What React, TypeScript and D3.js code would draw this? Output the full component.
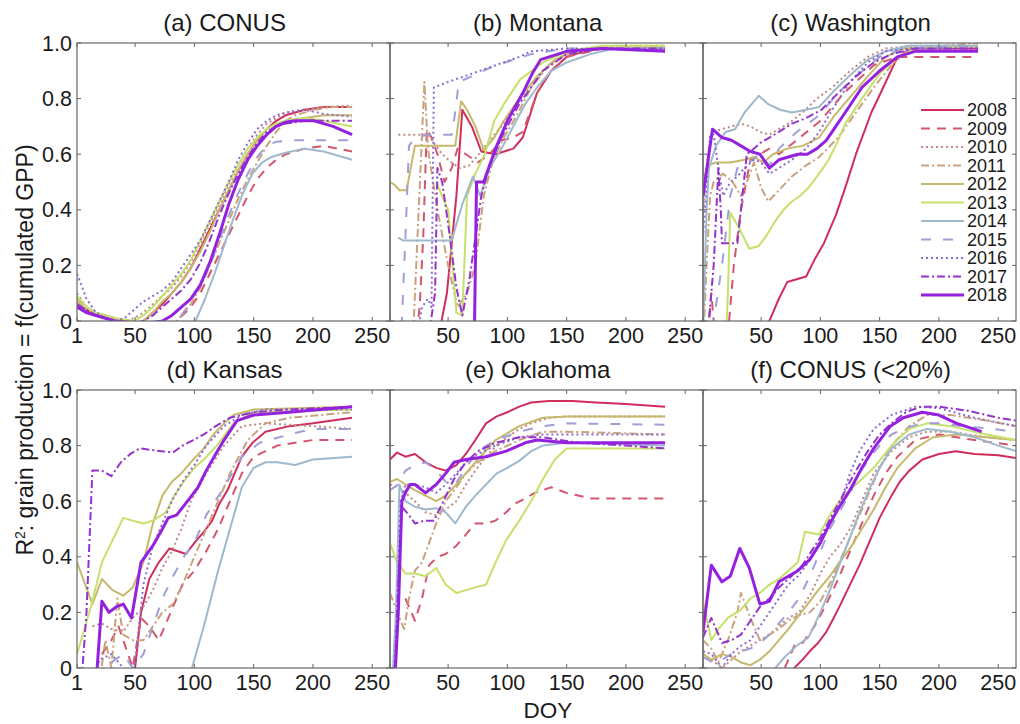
import React from 'react';
import * as d3 from 'd3';

type Pt = [number, number];

const YEARS = ['2008', '2009', '2010', '2011', '2012', '2013', '2014', '2015', '2016', '2017', '2018'];
const YEAR_COLORS = ['#cf2d5c', '#d4566c', '#c08a84', '#c9a27c', '#c6b96c', '#c6e06c', '#9fb8cc', '#a09ed6', '#8c6ad2', '#9433cc', '#9420e0'];
const YEAR_DASHES = ['', '9,7', '2,3', '8,3,2,3', '', '', '', '10,12', '2,3', '8,3,2,3', ''];
const YEAR_WIDTHS = [2, 2, 2, 2, 2, 2, 2, 2, 2, 2, 3];

const PANEL_TITLES = ['(a) CONUS', '(b) Montana', '(c) Washington', '(d) Kansas', '(e) Oklahoma', '(f) CONUS (<20%)'];
const DOY_TICKS = [1, 50, 100, 150, 200, 250];
const R2_TICKS = [0, 0.2, 0.4, 0.6, 0.8, 1];

// [DOY, R2] per year, 2008..2018
const conusAll: Pt[][] = [
  [[1, 0.06], [9, 0.04], [17, 0.02], [25, 0.02], [33, 0], [41, -0.02], [57, 0], [73, 0.06], [89, 0.14], [97, 0.19], [105, 0.26], [113, 0.33], [121, 0.4], [129, 0.47], [137, 0.54], [145, 0.6], [153, 0.65], [161, 0.69], [169, 0.72], [177, 0.74], [193, 0.76], [209, 0.77], [233, 0.77]],
  [[1, 0.05], [9, 0.03], [17, 0.02], [25, 0.02], [33, 0], [49, -0.02], [73, -0.03], [85, 0], [97, 0.05], [105, 0.1], [113, 0.17], [121, 0.24], [129, 0.31], [137, 0.38], [145, 0.45], [153, 0.51], [161, 0.55], [169, 0.58], [177, 0.6], [193, 0.62], [209, 0.63], [233, 0.61]],
  [[1, 0.1], [9, 0.05], [17, 0.03], [25, 0.02], [33, 0.01], [41, 0], [49, 0.01], [57, 0.03], [65, 0.06], [73, 0.09], [81, 0.12], [89, 0.16], [97, 0.21], [105, 0.28], [113, 0.35], [121, 0.42], [129, 0.49], [137, 0.56], [145, 0.62], [153, 0.67], [161, 0.71], [169, 0.73], [177, 0.75], [193, 0.76], [209, 0.77], [233, 0.775]],
  [[1, 0.07], [9, 0.04], [17, 0.02], [25, 0.02], [33, 0], [49, -0.02], [73, -0.02], [85, 0], [97, 0.06], [105, 0.12], [113, 0.2], [121, 0.28], [129, 0.36], [137, 0.44], [145, 0.51], [153, 0.57], [161, 0.63], [169, 0.68], [177, 0.72], [185, 0.74], [201, 0.76], [217, 0.77], [233, 0.77]],
  [[1, 0.08], [9, 0.05], [17, 0.03], [25, 0.02], [33, 0.01], [49, -0.01], [57, 0], [65, 0.03], [73, 0.07], [81, 0.1], [89, 0.14], [97, 0.19], [105, 0.25], [113, 0.32], [121, 0.4], [129, 0.47], [137, 0.54], [145, 0.6], [153, 0.65], [161, 0.69], [169, 0.71], [177, 0.72], [193, 0.73], [209, 0.74], [233, 0.74]],
  [[1, 0.09], [9, 0.05], [17, 0.03], [25, 0.02], [33, 0.01], [49, 0], [57, 0.02], [65, 0.05], [73, 0.09], [81, 0.13], [89, 0.17], [97, 0.22], [105, 0.29], [113, 0.36], [121, 0.43], [129, 0.5], [137, 0.56], [145, 0.62], [153, 0.66], [161, 0.69], [169, 0.71], [177, 0.72], [193, 0.73], [209, 0.72], [233, 0.7]],
  [[1, 0.06], [9, 0.03], [17, 0.02], [25, 0.01], [33, 0], [57, -0.03], [89, -0.03], [101, 0], [109, 0.08], [117, 0.17], [125, 0.27], [133, 0.37], [141, 0.46], [149, 0.53], [157, 0.57], [165, 0.59], [177, 0.605], [193, 0.62], [209, 0.61], [225, 0.59], [233, 0.58]],
  [[1, 0.05], [9, 0.03], [17, 0.02], [25, 0.01], [33, 0], [57, -0.02], [81, -0.01], [89, 0.02], [97, 0.07], [105, 0.13], [113, 0.2], [121, 0.29], [129, 0.38], [137, 0.46], [145, 0.53], [153, 0.59], [161, 0.63], [169, 0.645], [185, 0.65], [209, 0.65], [233, 0.65]],
  [[1, 0.17], [9, 0.08], [17, 0.03], [25, 0.01], [33, 0], [41, 0.01], [49, 0.04], [57, 0.07], [65, 0.09], [73, 0.11], [81, 0.14], [89, 0.19], [97, 0.24], [105, 0.29], [113, 0.36], [121, 0.43], [129, 0.5], [137, 0.58], [145, 0.64], [153, 0.69], [161, 0.72], [169, 0.74], [177, 0.75], [193, 0.76], [209, 0.745], [233, 0.735]],
  [[1, 0.06], [9, 0.04], [17, 0.02], [25, 0.01], [33, 0], [49, -0.01], [57, 0], [65, 0.02], [73, 0.05], [81, 0.08], [89, 0.11], [97, 0.15], [105, 0.21], [113, 0.29], [121, 0.38], [129, 0.46], [137, 0.53], [145, 0.59], [153, 0.64], [161, 0.68], [169, 0.7], [177, 0.71], [193, 0.72], [209, 0.72], [233, 0.72]],
  [[1, 0.05], [9, 0.03], [17, 0.02], [25, 0.01], [33, 0], [57, -0.01], [73, 0], [81, 0.02], [89, 0.05], [97, 0.08], [105, 0.13], [113, 0.21], [121, 0.31], [129, 0.42], [137, 0.51], [145, 0.58], [153, 0.63], [161, 0.67], [169, 0.7], [177, 0.715], [185, 0.72], [201, 0.72], [217, 0.7], [233, 0.67]],
];

const montana: Pt[][] = [
  [[40, -0.1], [49, 0.1], [57, 0.45], [62, 0.76], [70, 0.7], [78, 0.61], [90, 0.6], [105, 0.62], [113, 0.66], [125, 0.82], [137, 0.9], [150, 0.95], [165, 0.97], [180, 0.98], [233, 0.98]],
  [[22, -0.1], [26, 0.05], [29, 0.3], [32, 0.69], [36, 0.66], [41, 0.6], [47, 0.5], [53, 0.55], [58, 0.62], [65, 0.6], [75, 0.57], [85, 0.6], [95, 0.65], [105, 0.66], [113, 0.68], [125, 0.82], [137, 0.9], [150, 0.95], [180, 0.98], [233, 0.98]],
  [[8, 0.67], [33, 0.67], [38, 0.64], [45, 0.6], [53, 0.57], [60, 0.55], [68, 0.56], [76, 0.6], [85, 0.65], [95, 0.7], [105, 0.76], [115, 0.82], [125, 0.88], [137, 0.93], [150, 0.96], [170, 0.98], [190, 0.99], [233, 0.99]],
  [[20, -0.1], [30, 0.86], [33, 0.62], [41, 0.4], [50, 0.2], [58, 0.05], [66, 0.1], [73, 0.2], [80, 0.45], [88, 0.58], [97, 0.66], [108, 0.74], [120, 0.84], [135, 0.92], [150, 0.96], [175, 0.98], [233, 0.99]],
  [[1, 0.5], [5, 0.49], [9, 0.47], [15, 0.47], [22, 0.63], [33, 0.63], [45, 0.63], [56, 0.63], [61, 0.79], [66, 0.76], [73, 0.7], [80, 0.615], [89, 0.66], [97, 0.72], [110, 0.8], [125, 0.88], [140, 0.94], [155, 0.97], [175, 0.98], [233, 0.98]],
  [[40, 0.5], [50, 0.4], [57, 0.03], [62, 0.02], [66, 0.45], [73, 0.53], [81, 0.6], [89, 0.72], [97, 0.78], [111, 0.87], [130, 0.93], [150, 0.97], [180, 0.99], [233, 0.99]],
  [[8, 0.3], [12, 0.29], [22, 0.29], [33, 0.29], [45, 0.29], [53, 0.29], [62, 0.42], [71, 0.52], [77, 0.45], [85, 0.55], [95, 0.62], [105, 0.7], [115, 0.78], [125, 0.84], [137, 0.9], [150, 0.93], [170, 0.96], [190, 0.98], [233, 0.98]],
  [[10, -0.1], [14, 0.3], [17, 0.63], [22, 0.66], [33, 0.67], [45, 0.67], [53, 0.67], [56, 0.75], [59, 0.86], [70, 0.88], [85, 0.91], [98, 0.93], [120, 0.96], [150, 0.98], [233, 0.98]],
  [[22, -0.1], [28, 0.05], [33, 0.08], [36, 0.05], [38, 0.84], [50, 0.86], [67, 0.885], [90, 0.92], [110, 0.95], [120, 0.97], [150, 0.98], [233, 0.975]],
  [[32, -0.1], [39, 0.1], [41, 0.55], [45, 0.5], [50, 0.35], [57, 0.12], [62, 0.02], [68, 0.15], [73, 0.3], [78, 0.45], [85, 0.56], [95, 0.66], [110, 0.78], [130, 0.9], [150, 0.96], [180, 0.98], [233, 0.98]],
  [[72, -0.1], [74, 0.5], [80, 0.5], [90, 0.62], [100, 0.72], [113, 0.82], [121, 0.89], [128, 0.94], [150, 0.97], [180, 0.98], [233, 0.97]],
];

const washington: Pt[][] = [
  [[50, -0.05], [57, 0], [65, 0.08], [72, 0.14], [80, 0.15], [88, 0.16], [95, 0.22], [103, 0.28], [113, 0.38], [121, 0.48], [130, 0.6], [143, 0.75], [153, 0.84], [164, 0.94], [175, 0.98], [233, 0.98]],
  [[4, -0.1], [8, 0.1], [12, -0.1], [22, -0.05], [27, 0.2], [33, 0.4], [41, 0.58], [49, 0.6], [57, 0.62], [65, 0.6], [80, 0.65], [100, 0.72], [120, 0.82], [145, 0.92], [165, 0.95], [233, 0.95]],
  [[1, 0.38], [5, 0.6], [9, 0.68], [17, 0.69], [25, 0.7], [33, 0.71], [41, 0.7], [49, 0.68], [57, 0.67], [65, 0.69], [73, 0.71], [85, 0.75], [97, 0.8], [110, 0.84], [125, 0.9], [140, 0.95], [155, 0.98], [175, 0.99], [233, 0.99]],
  [[1, -0.1], [4, 0.2], [7, 0.45], [10, 0.5], [18, 0.53], [26, 0.5], [33, 0.45], [38, 0.5], [44, 0.57], [50, 0.48], [56, 0.43], [65, 0.47], [76, 0.52], [88, 0.56], [99, 0.59], [115, 0.66], [130, 0.75], [145, 0.84], [160, 0.92], [175, 0.98], [233, 1]],
  [[1, 0.5], [5, 0.56], [12, 0.57], [24, 0.57], [36, 0.58], [44, 0.59], [52, 0.57], [60, 0.6], [72, 0.62], [85, 0.63], [99, 0.66], [112, 0.74], [124, 0.8], [140, 0.88], [155, 0.95], [170, 0.98], [233, 0.99]],
  [[20, -0.1], [22, 0.1], [24, 0.39], [32, 0.33], [40, 0.26], [48, 0.27], [55, 0.31], [62, 0.36], [69, 0.4], [76, 0.43], [83, 0.45], [90, 0.48], [99, 0.53], [107, 0.58], [114, 0.64], [121, 0.71], [135, 0.8], [150, 0.89], [165, 0.95], [180, 0.98], [233, 0.99]],
  [[1, -0.05], [4, 0.4], [6, 0.55], [12, 0.63], [20, 0.68], [28, 0.69], [36, 0.75], [44, 0.79], [48, 0.81], [56, 0.78], [66, 0.76], [76, 0.75], [88, 0.76], [99, 0.77], [112, 0.83], [124, 0.88], [140, 0.94], [155, 0.97], [175, 0.99], [233, 0.99]],
  [[1, -0.1], [10, 0], [17, 0.2], [24, 0.45], [30, 0.55], [40, 0.57], [49, 0.6], [57, 0.56], [65, 0.62], [80, 0.68], [99, 0.74], [115, 0.82], [130, 0.88], [150, 0.95], [170, 0.98], [233, 0.99]],
  [[1, 0.3], [4, 0.5], [7, 0.67], [10, 0.67], [14, 0.55], [18, 0.45], [24, 0.5], [30, 0.52], [36, 0.55], [44, 0.58], [50, 0.57], [57, 0.53], [65, 0.55], [76, 0.58], [88, 0.62], [99, 0.68], [110, 0.76], [125, 0.86], [140, 0.93], [155, 0.97], [175, 0.98], [233, 0.98]],
  [[1, -0.1], [5, -0.05], [10, 0.2], [14, 0.55], [16, 0.4], [17, 0.28], [24, 0.28], [30, 0.28], [33, 0.4], [38, 0.6], [44, 0.62], [49, 0.64], [57, 0.66], [65, 0.68], [76, 0.71], [88, 0.73], [101, 0.76], [115, 0.82], [130, 0.88], [145, 0.93], [160, 0.96], [180, 0.98], [233, 0.98]],
  [[1, 0.45], [9, 0.69], [17, 0.66], [25, 0.65], [33, 0.63], [41, 0.61], [49, 0.6], [57, 0.55], [65, 0.58], [73, 0.59], [81, 0.6], [89, 0.6], [97, 0.62], [105, 0.65], [113, 0.7], [121, 0.75], [135, 0.84], [150, 0.9], [165, 0.95], [180, 0.97], [233, 0.97]],
];

const kansas: Pt[][] = [
  [[45, -0.05], [50, 0], [55, 0.2], [62, 0.32], [70, 0.38], [79, 0.43], [86, 0.42], [93, 0.41], [100, 0.45], [108, 0.49], [115, 0.53], [121, 0.59], [128, 0.64], [133, 0.69], [140, 0.76], [149, 0.81], [160, 0.85], [180, 0.87], [200, 0.88], [233, 0.9]],
  [[22, 0.05], [30, 0.1], [36, 0.15], [40, 0.1], [48, 0], [55, 0.18], [62, 0.15], [70, 0.1], [80, 0.2], [90, 0.3], [100, 0.35], [110, 0.42], [120, 0.5], [130, 0.6], [140, 0.7], [150, 0.76], [170, 0.8], [200, 0.82], [233, 0.82]],
  [[14, 0.15], [22, 0.16], [30, 0.14], [40, 0.13], [48, 0.18], [57, 0.22], [65, 0.28], [73, 0.36], [81, 0.42], [89, 0.5], [97, 0.6], [110, 0.7], [125, 0.8], [140, 0.87], [160, 0.88], [200, 0.87], [233, 0.86]],
  [[20, -0.05], [25, 0.1], [30, 0], [35, 0.25], [40, 0.12], [48, 0.1], [57, 0.1], [65, 0.15], [73, 0.2], [82, 0.23], [90, 0.3], [100, 0.4], [115, 0.55], [130, 0.7], [145, 0.82], [160, 0.88], [180, 0.9], [233, 0.92]],
  [[1, 0.38], [8, 0.3], [14, 0.23], [22, 0.32], [31, 0.28], [40, 0.26], [48, 0.29], [57, 0.38], [65, 0.52], [73, 0.62], [81, 0.67], [89, 0.7], [97, 0.74], [108, 0.79], [116, 0.84], [125, 0.88], [133, 0.91], [150, 0.93], [233, 0.94]],
  [[1, 0.05], [8, 0.15], [14, 0.24], [22, 0.38], [31, 0.46], [40, 0.54], [48, 0.53], [57, 0.52], [65, 0.53], [76, 0.56], [83, 0.62], [91, 0.67], [100, 0.72], [108, 0.75], [119, 0.8], [133, 0.88], [150, 0.92], [233, 0.93]],
  [[92, -0.05], [98, 0], [108, 0.15], [120, 0.35], [130, 0.5], [140, 0.65], [150, 0.72], [160, 0.74], [170, 0.74], [185, 0.73], [200, 0.75], [233, 0.76]],
  [[30, 0.02], [40, 0.05], [48, 0], [57, 0.05], [65, 0.15], [73, 0.25], [82, 0.33], [91, 0.4], [100, 0.45], [110, 0.55], [125, 0.65], [140, 0.76], [155, 0.81], [180, 0.84], [200, 0.86], [233, 0.86]],
  [[14, -0.05], [20, 0.03], [30, 0.05], [40, 0], [48, -0.05], [52, 0.1], [57, 0.3], [65, 0.44], [73, 0.52], [81, 0.6], [90, 0.67], [100, 0.73], [110, 0.8], [125, 0.87], [140, 0.91], [160, 0.93], [233, 0.93]],
  [[4, -0.1], [9, 0.2], [14, 0.71], [22, 0.71], [30, 0.69], [38, 0.74], [46, 0.77], [54, 0.79], [62, 0.785], [72, 0.78], [82, 0.775], [90, 0.8], [99, 0.82], [108, 0.84], [116, 0.865], [130, 0.9], [150, 0.92], [180, 0.93], [233, 0.94]],
  [[14, -0.05], [18, 0], [22, 0.24], [28, 0.2], [34, 0.22], [40, 0.23], [47, 0.18], [55, 0.38], [65, 0.44], [73, 0.5], [78, 0.54], [85, 0.55], [96, 0.61], [103, 0.65], [110, 0.71], [118, 0.77], [125, 0.82], [136, 0.89], [150, 0.91], [180, 0.92], [233, 0.94]],
];

const oklahoma: Pt[][] = [
  [[1, 0.75], [7, 0.775], [14, 0.76], [22, 0.77], [31, 0.74], [40, 0.72], [48, 0.71], [57, 0.73], [65, 0.77], [73, 0.82], [82, 0.88], [91, 0.905], [100, 0.92], [110, 0.94], [120, 0.955], [135, 0.96], [155, 0.96], [175, 0.955], [200, 0.95], [233, 0.94]],
  [[14, 0.25], [22, 0.17], [28, 0.25], [34, 0.37], [41, 0.4], [48, 0.41], [57, 0.44], [65, 0.48], [73, 0.52], [82, 0.52], [90, 0.53], [99, 0.56], [106, 0.59], [115, 0.61], [123, 0.63], [137, 0.65], [150, 0.63], [170, 0.61], [200, 0.61], [233, 0.61]],
  [[1, 0.66], [8, 0.65], [14, 0.63], [22, 0.6], [31, 0.56], [40, 0.55], [48, 0.57], [57, 0.6], [65, 0.66], [73, 0.71], [82, 0.76], [91, 0.8], [100, 0.83], [110, 0.86], [120, 0.88], [135, 0.9], [150, 0.905], [233, 0.905]],
  [[1, 0.27], [7, 0.2], [13, 0.14], [17, 0.25], [22, 0.35], [28, 0.38], [34, 0.45], [40, 0.52], [48, 0.6], [57, 0.65], [65, 0.7], [75, 0.74], [90, 0.78], [110, 0.82], [130, 0.85], [150, 0.85], [233, 0.84]],
  [[1, 0.67], [7, 0.68], [14, 0.66], [22, 0.64], [31, 0.62], [40, 0.6], [48, 0.62], [57, 0.66], [65, 0.7], [75, 0.75], [90, 0.82], [110, 0.87], [130, 0.9], [150, 0.905], [233, 0.905]],
  [[1, 0.45], [7, 0.38], [14, 0.34], [22, 0.34], [31, 0.33], [40, 0.36], [48, 0.3], [57, 0.27], [65, 0.28], [73, 0.29], [82, 0.3], [90, 0.38], [99, 0.46], [110, 0.53], [120, 0.6], [130, 0.68], [140, 0.75], [150, 0.79], [180, 0.79], [233, 0.79]],
  [[3, -0.05], [6, 0.2], [9, 0.66], [14, 0.6], [22, 0.58], [31, 0.57], [40, 0.575], [48, 0.56], [56, 0.52], [65, 0.58], [73, 0.62], [82, 0.66], [91, 0.7], [100, 0.72], [110, 0.745], [120, 0.78], [130, 0.8], [150, 0.81], [233, 0.8]],
  [[1, 0.64], [8, 0.66], [14, 0.71], [22, 0.73], [31, 0.74], [40, 0.71], [48, 0.67], [56, 0.66], [65, 0.72], [75, 0.78], [90, 0.82], [110, 0.85], [130, 0.87], [150, 0.88], [233, 0.875]],
  [[4, -0.05], [7, 0.2], [10, 0.6], [14, 0.66], [22, 0.66], [31, 0.65], [40, 0.63], [48, 0.66], [57, 0.7], [65, 0.74], [75, 0.77], [90, 0.8], [110, 0.83], [130, 0.84], [150, 0.84], [233, 0.84]],
  [[5, -0.05], [8, 0.3], [11, 0.58], [17, 0.55], [22, 0.52], [30, 0.53], [38, 0.53], [46, 0.6], [55, 0.68], [65, 0.74], [75, 0.78], [90, 0.81], [110, 0.83], [130, 0.83], [160, 0.81], [200, 0.8], [233, 0.79]],
  [[5, -0.05], [8, 0.2], [11, 0.6], [14, 0.63], [18, 0.66], [22, 0.66], [31, 0.63], [40, 0.66], [48, 0.7], [55, 0.74], [65, 0.75], [82, 0.76], [99, 0.78], [115, 0.81], [125, 0.82], [150, 0.81], [233, 0.81]],
];

const conusLow: Pt[][] = [
  [[70, -0.05], [78, 0], [85, 0.03], [91, 0.06], [98, 0.09], [105, 0.13], [110, 0.17], [116, 0.22], [125, 0.3], [133, 0.37], [142, 0.46], [150, 0.54], [160, 0.62], [167, 0.67], [175, 0.71], [186, 0.75], [200, 0.77], [214, 0.78], [230, 0.77], [250, 0.765], [265, 0.755]],
  [[70, 0], [78, 0.08], [85, 0.09], [95, 0.15], [105, 0.23], [115, 0.32], [125, 0.42], [135, 0.52], [145, 0.62], [155, 0.7], [165, 0.76], [180, 0.82], [200, 0.84], [230, 0.82], [265, 0.8]],
  [[1, 0.05], [8, 0.03], [17, 0], [25, 0.03], [33, 0.06], [41, 0.08], [49, 0.1], [57, 0.12], [65, 0.15], [73, 0.18], [82, 0.2], [91, 0.26], [100, 0.34], [108, 0.4], [116, 0.44], [125, 0.5], [135, 0.6], [145, 0.7], [160, 0.78], [175, 0.83], [190, 0.85], [210, 0.85], [240, 0.83], [265, 0.82]],
  [[1, 0.1], [8, 0.07], [14, 0.02], [22, 0.1], [30, 0.2], [33, 0.27], [41, 0.18], [49, 0.1], [57, 0.12], [65, 0.14], [73, 0.17], [82, 0.19], [91, 0.2], [100, 0.24], [110, 0.32], [120, 0.42], [130, 0.52], [140, 0.62], [150, 0.72], [160, 0.8], [175, 0.87], [190, 0.91], [210, 0.91], [240, 0.89], [265, 0.87]],
  [[1, 0.05], [8, 0.03], [17, 0.05], [25, 0.04], [33, 0.02], [41, 0.01], [49, 0.03], [57, 0.06], [65, 0.1], [73, 0.14], [82, 0.19], [91, 0.24], [100, 0.29], [108, 0.33], [116, 0.38], [125, 0.43], [135, 0.5], [145, 0.57], [155, 0.65], [165, 0.72], [180, 0.79], [195, 0.83], [215, 0.84], [240, 0.83], [265, 0.82]],
  [[1, 0.24], [8, 0.1], [14, 0.14], [22, 0.18], [33, 0.21], [41, 0.25], [49, 0.27], [57, 0.3], [65, 0.32], [73, 0.35], [81, 0.38], [87, 0.49], [99, 0.48], [108, 0.55], [116, 0.6], [125, 0.64], [135, 0.68], [145, 0.72], [160, 0.8], [175, 0.86], [190, 0.88], [210, 0.87], [240, 0.84], [265, 0.82]],
  [[55, -0.05], [62, 0], [70, 0.04], [80, 0.08], [90, 0.11], [100, 0.2], [108, 0.28], [116, 0.37], [125, 0.47], [133, 0.56], [142, 0.65], [150, 0.72], [160, 0.79], [175, 0.84], [190, 0.86], [210, 0.85], [230, 0.83], [250, 0.8], [265, 0.78]],
  [[1, 0.04], [9, 0.02], [17, 0.03], [25, 0.05], [33, 0.06], [41, 0.07], [49, 0.09], [57, 0.12], [65, 0.16], [73, 0.2], [82, 0.25], [91, 0.33], [100, 0.42], [108, 0.5], [116, 0.56], [125, 0.63], [133, 0.7], [142, 0.76], [150, 0.8], [160, 0.84], [170, 0.86], [185, 0.88], [200, 0.88], [220, 0.87], [245, 0.86], [265, 0.85]],
  [[1, 0.06], [8, 0.05], [17, 0], [25, 0.05], [33, 0.08], [41, 0.1], [49, 0.15], [57, 0.2], [65, 0.25], [73, 0.3], [81, 0.33], [90, 0.38], [100, 0.46], [108, 0.52], [116, 0.58], [125, 0.7], [133, 0.78], [145, 0.86], [160, 0.91], [180, 0.94], [200, 0.935], [230, 0.9], [265, 0.87]],
  [[1, 0.11], [8, 0.18], [14, 0.12], [17, 0.09], [25, 0.1], [33, 0.12], [41, 0.17], [49, 0.22], [57, 0.25], [65, 0.29], [73, 0.32], [85, 0.37], [100, 0.47], [110, 0.55], [120, 0.63], [130, 0.71], [140, 0.78], [150, 0.84], [160, 0.88], [172, 0.92], [185, 0.94], [200, 0.94], [225, 0.925], [250, 0.9], [265, 0.89]],
  [[1, 0.13], [8, 0.37], [17, 0.31], [24, 0.33], [32, 0.43], [40, 0.36], [49, 0.23], [57, 0.24], [65, 0.31], [73, 0.33], [81, 0.35], [91, 0.39], [100, 0.45], [108, 0.52], [116, 0.58], [125, 0.64], [135, 0.72], [145, 0.79], [159, 0.87], [170, 0.9], [186, 0.92], [200, 0.91], [215, 0.88], [236, 0.85]],
];

const PANELS = [conusAll, montana, washington, kansas, oklahoma, conusLow];

const FONT = '"Liberation Sans", Arial, Helvetica, sans-serif';
const LEFT = 77;
const PW = 313;
const PH = 278;
const ROW_TOP = [43, 390];

export default function App() {
  const x = d3.scaleLinear().domain([1, 265]).range([0, PW]);
  const y = d3.scaleLinear().domain([0, 1]).range([PH, 0]);
  const line = d3.line<Pt>().x(d => x(d[0])).y(d => y(d[1]));
  const fmt = (v: number) => (v === 0 ? '0' : d3.format('.1f')(v));

  return (
    <svg width={1020} height={724} style={{ position: 'absolute', left: 0, top: 0, background: '#fff' }} fontFamily={FONT}>
      <defs>
        {PANELS.map((_, i) => (
          <clipPath id={`clip-${i}`} key={i}>
            <rect x={0} y={0} width={PW} height={PH} />
          </clipPath>
        ))}
      </defs>
      {PANELS.map((series, i) => {
        const col = i % 3;
        const row = Math.floor(i / 3);
        const tx = LEFT + col * PW;
        const ty = ROW_TOP[row];
        return (
          <g key={i} transform={`translate(${tx},${ty})`}>
            <text x={x(125.5)} y={-12} textAnchor="middle" fontSize={24} fill="#1a1a1a">{PANEL_TITLES[i]}</text>
            <g clipPath={`url(#clip-${i})`}>
              {series.map((s, k) => (
                <path key={k} d={line(s) || ''} fill="none" stroke={YEAR_COLORS[k]} strokeWidth={YEAR_WIDTHS[k]}
                  strokeDasharray={YEAR_DASHES[k] || undefined} strokeLinejoin="round" />
              ))}
            </g>
            <rect x={0} y={0} width={PW} height={PH} fill="none" stroke="#666" strokeWidth={1.2} />
            {DOY_TICKS.map(t => (
              <g key={`x${t}`}>
                <line x1={x(t)} x2={x(t)} y1={PH} y2={PH - 4} stroke="#666" />
                <line x1={x(t)} x2={x(t)} y1={0} y2={4} stroke="#666" />
                {(col === 0 || t !== 1) && (
                  <text x={x(t)} y={PH + 22} textAnchor="middle" fontSize={21.5} fill="#1a1a1a">{t}</text>
                )}
              </g>
            ))}
            {R2_TICKS.map(t => (
              <g key={`y${t}`}>
                <line x1={0} x2={4} y1={y(t)} y2={y(t)} stroke="#666" />
                <line x1={PW} x2={PW - 4} y1={y(t)} y2={y(t)} stroke="#666" />
                {col === 0 && (
                  <text x={-5} y={y(t)} dy="0.35em" textAnchor="end" fontSize={21.5} fill="#1a1a1a">{fmt(t)}</text>
                )}
              </g>
            ))}
            {i === 2 && (
              <g transform="translate(218,67)">
                {YEARS.map((yr, k) => (
                  <g key={yr} transform={`translate(0,${k * 18.5})`}>
                    <line x1={0} x2={43} y1={0} y2={0} stroke={YEAR_COLORS[k]} strokeWidth={YEAR_WIDTHS[k]}
                      strokeDasharray={YEAR_DASHES[k] || undefined} />
                    <text x={46} y={0} dy="0.35em" fontSize={18} fill="#1a1a1a">{yr}</text>
                  </g>
                ))}
              </g>
            )}
          </g>
        );
      })}
      <text transform="translate(33,350) rotate(-90)" textAnchor="middle" fontSize={23} fill="#1a1a1a">
        R<tspan dy={-8} fontSize={14}>2</tspan><tspan dy={8}>: grain production = f(cumulated GPP)</tspan>
      </text>
      <text x={548} y={718} textAnchor="middle" fontSize={22.5} fill="#1a1a1a">DOY</text>
    </svg>
  );
}
